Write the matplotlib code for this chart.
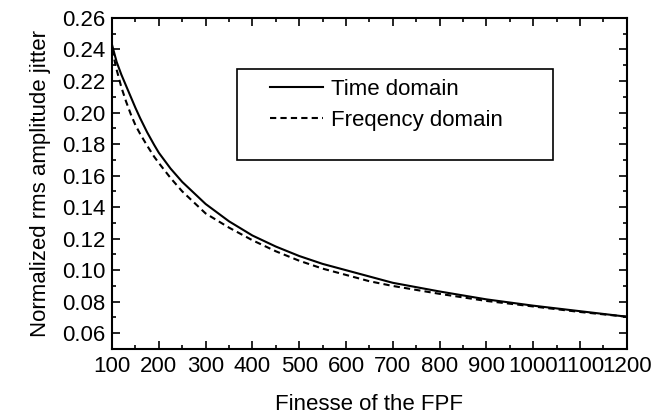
import numpy as np
import matplotlib
matplotlib.use('Agg')
import matplotlib.pyplot as plt
from matplotlib.patches import Rectangle
from matplotlib.ticker import MultipleLocator, FormatStrFormatter

plt.rcParams['font.family'] = ['Liberation Sans', 'DejaVu Sans']

# Finesse values (x) and normalized rms amplitude jitter
finesse = [100, 110, 120, 130, 140, 150, 160, 175, 190, 200, 225, 250, 300, 350,
           400, 450, 500, 550, 600, 650, 700, 800, 900, 1000, 1100, 1200]
time_domain = [0.243, 0.232, 0.224, 0.217, 0.210, 0.203, 0.1965, 0.1875, 0.1795,
               0.1745, 0.1645, 0.156, 0.142, 0.131, 0.122, 0.115, 0.109, 0.104,
               0.100, 0.096, 0.092, 0.0865, 0.0815, 0.0775, 0.074, 0.0705]
freq_domain = [0.240, 0.227, 0.216, 0.207, 0.199, 0.192, 0.1865, 0.179, 0.172,
               0.168, 0.1585, 0.150, 0.136, 0.127, 0.119, 0.112, 0.106, 0.101,
               0.097, 0.093, 0.090, 0.085, 0.0805, 0.077, 0.0735, 0.0705]

x_label = 'Finesse of the FPF'
y_label = 'Normalized rms amplitude jitter'
series_names = ['Time domain', 'Freqency domain']

fig = plt.figure(figsize=(6.64, 4.17), dpi=100)
ax = fig.add_axes([0.1687, 0.163, 0.7753, 0.794])

ax.plot(finesse, time_domain, color='black', lw=1.5, ls='-', label=series_names[0])
ax.plot(finesse, freq_domain, color='black', lw=1.5, ls=(0, (3, 2)), label=series_names[1])

ax.set_xlim(100, 1200)
ax.set_ylim(0.05, 0.26)
ax.xaxis.set_major_locator(MultipleLocator(100))
ax.xaxis.set_minor_locator(MultipleLocator(50))
ax.yaxis.set_minor_locator(MultipleLocator(0.01))
ax.set_yticks(np.arange(0.06, 0.261, 0.02))
ax.yaxis.set_major_formatter(FormatStrFormatter('%.2f'))

ax.tick_params(which='both', direction='in', top=True, right=True, labelsize=16, width=1.2)
ax.tick_params(which='major', length=6, pad=5)
ax.tick_params(which='minor', length=3)
for sp in ax.spines.values():
    sp.set_linewidth(1.5)

ax.set_xlabel(x_label, fontsize=16, labelpad=12)
ax.set_ylabel(y_label, fontsize=16, labelpad=8)

# legend box is drawn separately, it has more room below the entries
ax.add_patch(Rectangle((0.243, 0.571), 0.613, 0.275, transform=ax.transAxes,
                       fill=False, edgecolor='black', lw=1.2, zorder=3))
ax.legend(loc='upper left', bbox_to_anchor=(0.307, 0.815), frameon=False,
          fontsize=16, handlelength=2.4, handletextpad=0.35, borderpad=0,
          borderaxespad=0, labelspacing=0.45)

fig.savefig('out.png', dpi=100)
